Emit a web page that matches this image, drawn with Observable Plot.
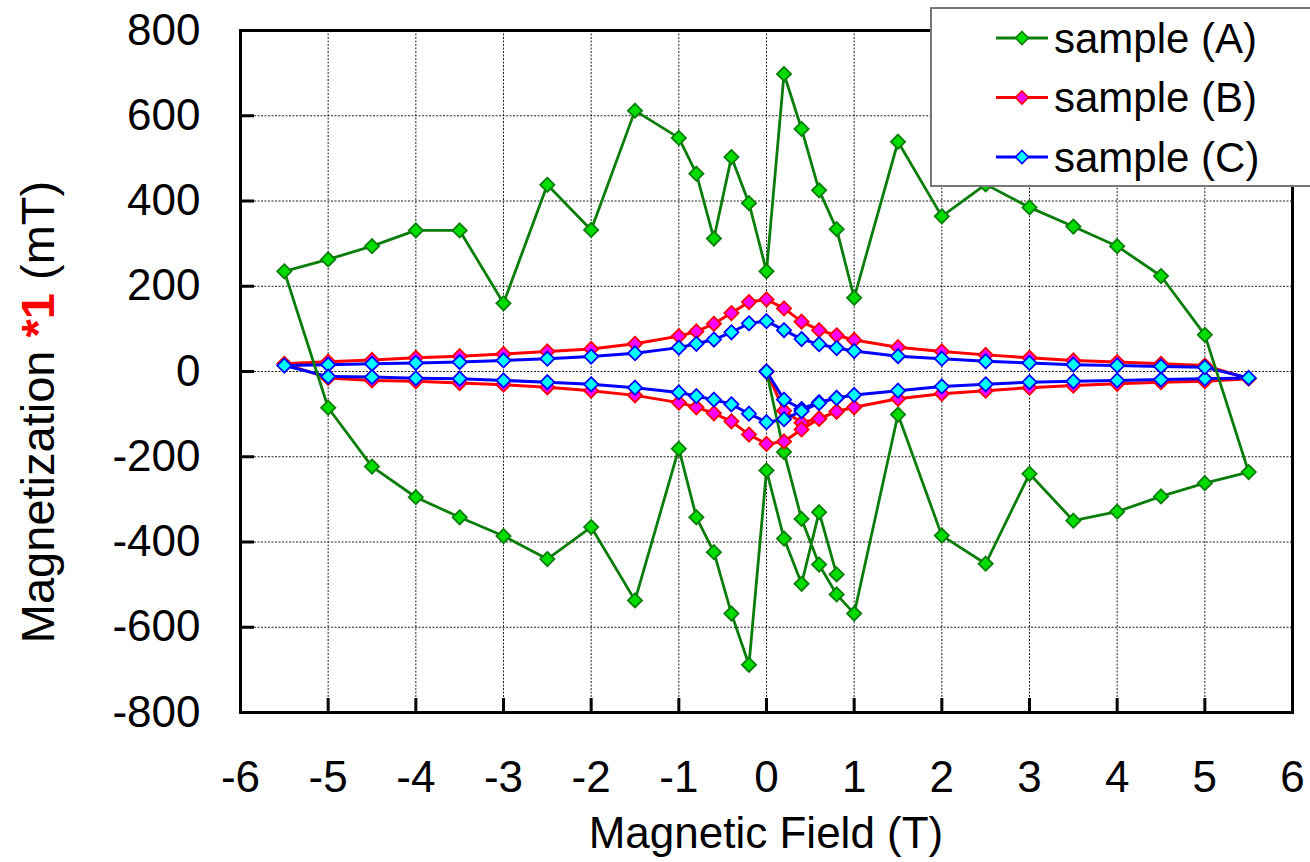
<!DOCTYPE html>
<html><head><meta charset="utf-8">
<script src="https://cdn.jsdelivr.net/npm/d3@7"></script>
<script src="https://cdn.jsdelivr.net/npm/@observablehq/plot@0.6"></script>
<style>body{margin:0;background:#fff}#chart{width:1310px;height:862px;overflow:hidden}</style>
</head><body><div id="chart"></div>
<script>
// Magnetic field sweep (T): virgin 0→5.5, descending 5→-5.5, ascending -5→0.8
const field = [0,0.2,0.4,0.6,0.8,1,1.5,2,2.5,3,3.5,4,4.5,5,5.5,
  5,4.5,4,3.5,3,2.5,2,1.5,1,0.8,0.6,0.4,0.2,0,-0.2,-0.4,-0.6,-0.8,-1,-1.5,-2,-2.5,-3,-3.5,-4,-4.5,-5,-5.5,
  -5,-4.5,-4,-3.5,-3,-2.5,-2,-1.5,-1,-0.8,-0.6,-0.4,-0.2,0,0.2,0.4,0.6,0.8];
const magA = [0,-189,-346,-453,-523,-568,-101,-385,-451,-240,-350,-329,-293,-262,-236,
  86,224,294,340,385,439,364,539,173,334,425,569,698,235,395,503,312,464,548,612,332,438,160,331,331,294,263,235,
  -85,-223,-295,-342,-386,-440,-365,-537,-181,-342,-424,-568,-688,-232,-392,-498,-330,-476];
const magB = [0,-92,-120,-110,-94,-84,-64,-52,-45,-38,-33,-29,-25,-23,-17,
  14,18,22,26,32,39,47,57,74,85,97,117,148,169,163,137,112,94,83,65,53,47,41,36,32,27,23,18,
  -15,-21,-23,-27,-31,-37,-45,-56,-73,-84,-98,-117,-148,-170,-164,-136,-111,-94];
const magC = [0,-66,-88,-72,-62,-55,-45,-35,-30,-25,-23,-21,-19,-17,-15,
  10,12,14,16,20,24,30,36,48,55,64,76,97,118,113,92,75,65,56,43,35,30,26,22,20,18,16,14,
  -12,-13,-16,-17,-21,-25,-30,-38,-49,-58,-66,-77,-99,-119,-112,-93,-74,-62];
const seriesNames = ["sample (A)", "sample (B)", "sample (C)"];
const lineColors = ["#0a7d0a", "#ff0000", "#0000ff"];
const fillColors = ["#00dd00", "#ff00ff", "#00ffff"];
const xTicks = [-6,-5,-4,-3,-2,-1,0,1,2,3,4,5,6];
const yTicks = [-800,-600,-400,-200,0,200,400,600,800];

const mags = [magA, magB, magC];
const data = mags.map((m, s) => field.map((x, i) => ({series: seriesNames[s], x, y: m[i]})));

const font = "'Liberation Sans', Arial, sans-serif";
const fmt = d => String(d);
const lineMark = s => Plot.line(data[s], {x: "x", y: "y", stroke: lineColors[s], strokeWidth: s === 0 ? 2.8 : 3});
const dotMark = s => Plot.dot(data[s], {x: "x", y: "y", symbol: "diamond2", r: 6.4, fill: fillColors[s], stroke: lineColors[s], strokeWidth: 1.8});

const plotW = 1310 - 240 - 18, plotH = 862 - 30 - 150, tickLen = 14;

const plot = Plot.plot({
  width: 1310, height: 862,
  marginLeft: 240, marginRight: 18, marginTop: 30, marginBottom: 150,
  style: {fontFamily: font, background: "white", overflow: "visible"},
  x: {domain: [-6, 6]},
  y: {domain: [-800, 800]},
  marks: [
    Plot.gridX(xTicks, {stroke: "#222", strokeOpacity: 1, strokeWidth: 1, strokeDasharray: "2,1.5"}),
    Plot.gridY(yTicks, {stroke: "#222", strokeOpacity: 1, strokeWidth: 1, strokeDasharray: "2,1.5"}),
    // inward tick marks
    Plot.ruleX(xTicks, {stroke: "black", strokeWidth: 3, insetTop: plotH - tickLen}),
    Plot.ruleY(yTicks, {stroke: "black", strokeWidth: 3, insetRight: plotW - tickLen}),
    Plot.axisX(xTicks, {tickSize: 0, tickPadding: 48, fontSize: 44, label: null, fill: "black", tickFormat: fmt}),
    Plot.axisY(yTicks, {tickSize: 0, tickPadding: 40, fontSize: 44, label: null, fill: "black", tickFormat: fmt}),
    Plot.frame({stroke: "black", strokeWidth: 3}),
    lineMark(1), lineMark(2), lineMark(0),
    dotMark(0), dotMark(1), dotMark(2)
  ]
});

const svg = d3.select(plot);
// axis titles
svg.append("text").attr("x", 766).attr("y", 848).attr("text-anchor", "middle")
  .style("font-family", font).style("font-size", "44px").attr("fill", "black").text("Magnetic Field (T)");
const yl = svg.append("text").attr("transform", "translate(37,412) rotate(-90)")
  .attr("text-anchor", "middle").attr("dominant-baseline", "central")
  .style("font-family", font).style("font-size", "47px").attr("fill", "black");
yl.append("tspan").text("Magnetization ");
yl.append("tspan").attr("fill", "#ff0000").attr("font-weight", "bold").text("*1");
yl.append("tspan").text(" (mT)");

// legend
const lg = svg.append("g");
lg.append("rect").attr("x", 931).attr("y", 8).attr("width", 420).attr("height", 178)
  .attr("fill", "white").attr("stroke", "#777").attr("stroke-width", 2);
seriesNames.forEach((name, i) => {
  const cy = 38 + i * 59.5;
  lg.append("line").attr("x1", 996).attr("x2", 1048).attr("y1", cy).attr("y2", cy)
    .attr("stroke", lineColors[i]).attr("stroke-width", 3);
  lg.append("path").attr("d", `M1022,${cy-6.5}L1028.5,${cy}L1022,${cy+6.5}L1015.5,${cy}Z`)
    .attr("fill", fillColors[i]).attr("stroke", lineColors[i]).attr("stroke-width", 1.6);
  lg.append("text").attr("x", 1054).attr("y", cy).attr("text-anchor", "start").attr("dominant-baseline", "central")
    .style("font-family", font).style("font-size", "42px").attr("fill", "black").text(name);
});

document.getElementById("chart").appendChild(plot);
</script></body></html>
